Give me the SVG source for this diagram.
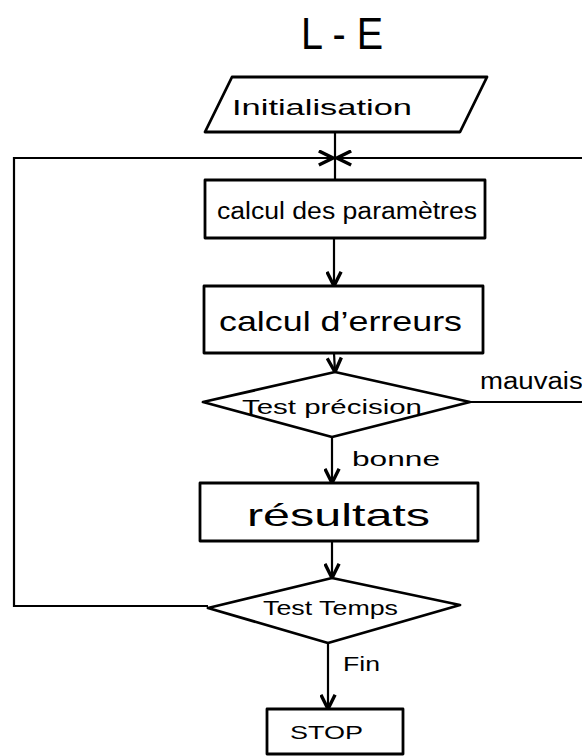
<svg xmlns="http://www.w3.org/2000/svg" width="582" height="756" viewBox="0 0 582 756">
<style>
.s{fill:#fff;stroke:#000;stroke-width:2.8;stroke-linejoin:round}
.c{fill:none;stroke:#000;stroke-width:2.2}
.t{font-family:"Liberation Sans",Arial,sans-serif;fill:#000;dominant-baseline:central}
</style>
<defs>
<marker id="ah" viewBox="0 0 12 12" refX="11" refY="6" markerWidth="17" markerHeight="17" markerUnits="userSpaceOnUse" orient="auto">
<path d="M1,1 L11,6 L1,11" fill="none" stroke="#000" stroke-width="2.4"/>
</marker>
</defs>
<rect width="582" height="756" fill="#fff"/>
<text class="t" x="342" y="33" font-size="44" text-anchor="middle" textLength="82" lengthAdjust="spacingAndGlyphs">L - E</text>
<g id="connectors">
<path class="c" d="M335,132 L335,180"/>
<path class="c" d="M208,606 L14,606 L14,158 L333,158" marker-end="url(#ah)"/>
<path class="c" d="M470,402 L592,402 L592,158 L337,158" marker-end="url(#ah)"/>
<path class="c" d="M334,238 L334,286" marker-end="url(#ah)"/>
<path class="c" d="M334,353 L335,372" marker-end="url(#ah)"/>
<path class="c" d="M332,437 L332,483" marker-end="url(#ah)"/>
<path class="c" d="M332,541 L332,578" marker-end="url(#ah)"/>
<path class="c" d="M328,643 L328,709" marker-end="url(#ah)"/>
<text class="t" x="480" y="381" font-size="23" textLength="118" lengthAdjust="spacingAndGlyphs">mauvaise</text>
<text class="t" x="352" y="458" font-size="21" textLength="88" lengthAdjust="spacingAndGlyphs">bonne</text>
<text class="t" x="343" y="663" font-size="21" textLength="37" lengthAdjust="spacingAndGlyphs">Fin</text>
</g>
<g id="init">
<polygon class="s" points="232,77 487,77 460,132 205,132"/>
<text class="t" x="232" y="107" font-size="22" textLength="180" lengthAdjust="spacingAndGlyphs">Initialisation</text>
</g>
<g id="params">
<rect class="s" x="205" y="180" width="280" height="58"/>
<text class="t" x="217" y="211" font-size="23" textLength="260" lengthAdjust="spacingAndGlyphs">calcul des paramètres</text>
</g>
<g id="erreurs">
<rect class="s" x="204" y="286" width="279" height="67"/>
<text class="t" x="219" y="321" font-size="28" textLength="243" lengthAdjust="spacingAndGlyphs">calcul d’erreurs</text>
</g>
<g id="precision">
<polygon class="s" points="203,402 335,372 470,402 332,437"/>
<text class="t" x="242" y="407" font-size="20" textLength="180" lengthAdjust="spacingAndGlyphs">Test précision</text>
</g>
<g id="resultats">
<rect class="s" x="200" y="483" width="278" height="58"/>
<text class="t" x="247" y="515" font-size="32" textLength="183" lengthAdjust="spacingAndGlyphs">résultats</text>
</g>
<g id="temps">
<polygon class="s" points="208,608 332,578 460,605 328,643"/>
<text class="t" x="263" y="608" font-size="20" textLength="135" lengthAdjust="spacingAndGlyphs">Test Temps</text>
</g>
<g id="stop">
<rect class="s" x="267" y="709" width="136" height="45"/>
<text class="t" x="290" y="732" font-size="19" textLength="73" lengthAdjust="spacingAndGlyphs">STOP</text>
</g>
</svg>
